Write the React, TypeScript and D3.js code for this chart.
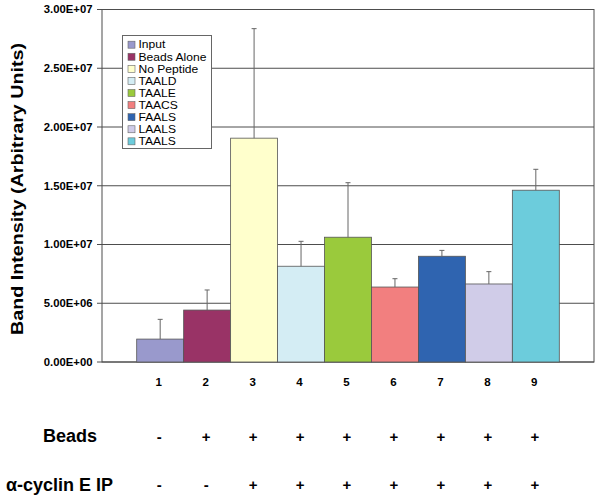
import React from "react";
import * as d3 from "d3";

const categories = ["1", "2", "3", "4", "5", "6", "7", "8", "9"];
const seriesNames = ["Input", "Beads Alone", "No Peptide", "TAALD", "TAALE", "TAACS", "FAALS", "LAALS", "TAALS"];
const values = [1.95e6, 4.42e6, 1.905e7, 8.15e6, 1.062e7, 6.38e6, 9.0e6, 6.64e6, 1.462e7];
const errorTops = [3.63e6, 6.13e6, 2.837e7, 1.027e7, 1.526e7, 7.09e6, 9.5e6, 7.69e6, 1.64e7];
const colors = ["#9999CC", "#993366", "#FFFFCC", "#D4EDF4", "#9ACA3C", "#F27F7F", "#2F64B0", "#D0CCE8", "#6CCCDC"];
const yTicks = [0, 5e6, 1e7, 1.5e7, 2e7, 2.5e7, 3e7];
const beadsRow = ["-", "+", "+", "+", "+", "+", "+", "+", "+"];
const cyclinRow = ["-", "-", "+", "+", "+", "+", "+", "+", "+"];

const fmt = (v: number) => {
  const s = v.toExponential(2).toUpperCase();
  const [m, e] = s.split("E");
  const n = parseInt(e, 10);
  return `${m}E${n >= 0 ? "+" : "-"}${String(Math.abs(n)).padStart(2, "0")}`;
};

export default function App() {
  const W = 601, H = 500;
  const left = 102, right = 594, top = 9.5, bottom = 362;
  const y = d3.scaleLinear().domain([0, 3e7]).range([bottom, top]);
  const x = d3.scaleBand<string>().domain(categories).range([136.7, 559.3]).padding(0);
  const font = "Arial, 'Liberation Sans', sans-serif";
  const legendY = (i: number) => 44.7 + i * 12.08;

  return (
    <svg width={W} height={H} style={{ position: "absolute", left: 0, top: 0, background: "#fff" }} fontFamily={font}>
      <rect x={0} y={0} width={W} height={H} fill="#fff" />
      {yTicks.map((t) => (
        <g key={t}>
          <line x1={left} x2={right} y1={y(t)} y2={y(t)} stroke="#4d4d4d" strokeWidth={1} />
          <line x1={left - 5} x2={left} y1={y(t)} y2={y(t)} stroke="#4d4d4d" strokeWidth={1} />
          <text x={92.5} y={y(t)} dy="0.35em" textAnchor="end" fontSize={11.3} fontWeight="bold" fill="#000">
            {fmt(t)}
          </text>
        </g>
      ))}
      <rect x={left} y={top} width={right - left} height={bottom - top} fill="none" stroke="#4d4d4d" strokeWidth={1} />
      {categories.map((c, i) => (
        <rect key={c} x={x(c)!} y={y(values[i])} width={x.bandwidth()} height={y(0) - y(values[i])}
          fill={colors[i]} stroke="#555" strokeWidth={0.8} />
      ))}
      {categories.map((c, i) => {
        const cx = x(c)! + x.bandwidth() / 2;
        return (
          <g key={c} stroke="#666" strokeWidth={1}>
            <line x1={cx} x2={cx} y1={y(values[i])} y2={y(errorTops[i])} />
            <line x1={cx - 2.5} x2={cx + 2.5} y1={y(errorTops[i])} y2={y(errorTops[i])} />
          </g>
        );
      })}
      {categories.map((c) => (
        <text key={c} x={x(c)! + x.bandwidth() / 2 - 1.5} y={382} dy="0.35em" textAnchor="middle" fontSize={11.5} fontWeight="bold">
          {c}
        </text>
      ))}
      <rect x={122.5} y={35.5} width={89} height={113} fill="#fff" stroke="#666" strokeWidth={1} />
      {seriesNames.map((s, i) => (
        <g key={s}>
          <rect x={128} y={legendY(i) - 3.5} width={7} height={7} fill={colors[i]} stroke="#666" strokeWidth={0.6} />
          <text transform={`translate(138.5,${legendY(i)}) scale(1.12,1)`} dy="0.35em" fontSize={10.8} fill="#000">{s}</text>
        </g>
      ))}
      <text transform={`translate(23,189) rotate(-90)`} textAnchor="middle" fontSize={17} fontWeight="bold"
        textLength={292} lengthAdjust="spacingAndGlyphs">
        Band Intensity (Arbitrary Units)
      </text>
      <text x={43} y={436} dy="0.35em" fontSize={18} fontWeight="bold">Beads</text>
      <text x={6} y={485} dy="0.35em" fontSize={18} fontWeight="bold">α-cyclin E IP</text>
      {categories.map((c, i) => (
        <g key={c} fontSize={15} fontWeight="bold">
          <text x={x(c)! + x.bandwidth() / 2 - 1} y={437} dy="0.35em" textAnchor="middle">{beadsRow[i]}</text>
          <text x={x(c)! + x.bandwidth() / 2 - 1} y={485} dy="0.35em" textAnchor="middle">{cyclinRow[i]}</text>
        </g>
      ))}
    </svg>
  );
}
